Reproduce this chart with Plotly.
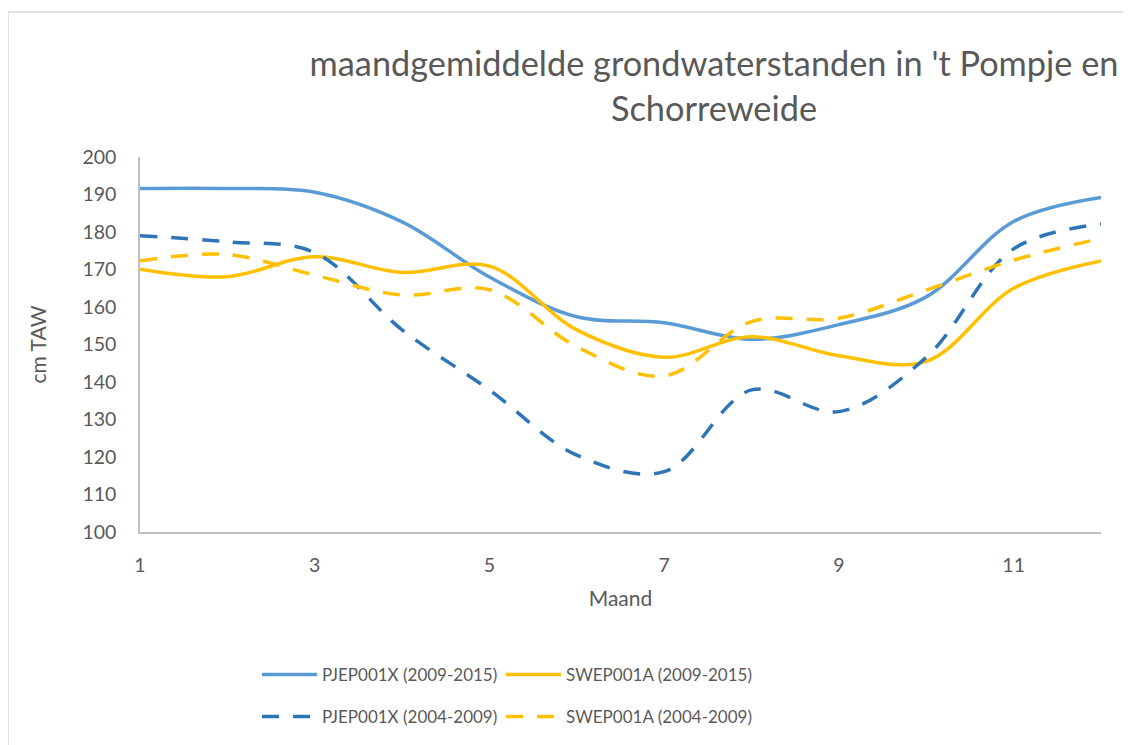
import plotly.graph_objects as go

months = [1, 2, 3, 4, 5, 6, 7, 8, 9, 10, 11, 12]
pj_2009_2015 = [191.6, 191.6, 190.6, 182.7, 168.0, 157.4, 155.8, 151.4, 155.3, 162.7, 182.8, 189.2]
sw_2009_2015 = [170.1, 168.1, 173.4, 169.2, 170.9, 153.9, 146.6, 152.1, 147.0, 145.5, 165.0, 172.3]
pj_2004_2009 = [179.0, 177.4, 174.5, 153.9, 137.9, 120.5, 116.1, 137.9, 132.1, 146.6, 175.5, 182.1]
sw_2004_2009 = [172.3, 174.0, 168.5, 163.2, 164.6, 149.4, 141.6, 156.1, 157.0, 164.5, 172.5, 178.3]

names = ["PJEP001X (2009-2015)", "SWEP001A (2009-2015)", "PJEP001X (2004-2009)", "SWEP001A (2004-2009)"]
x_ticks = [1, 3, 5, 7, 9, 11]
y_ticks = [100, 110, 120, 130, 140, 150, 160, 170, 180, 190, 200]

FONT = "Lato"
GREY = "#595959"

fig = go.Figure()
series = [
    (pj_2009_2015, "#5B9BD5", "solid", "legend"),
    (sw_2009_2015, "#FFC000", "solid", "legend2"),
    (pj_2004_2009, "#2E75B6", "17px,14px", "legend3"),
    (sw_2004_2009, "#FFC000", "17px,14px", "legend4"),
]
for (vals, col, dash, lg), nm in zip(series, names):
    fig.add_trace(go.Scatter(
        x=months, y=vals, name=nm, mode="lines", legend=lg, showlegend=True,
        line=dict(color=col, width=3.5, dash=dash, shape="spline", smoothing=1.0),
    ))

# page body has an 8px margin: figure coords = window coords - 8
OFF = 8
W, H = 1131 - OFF, 745 - OFF
PL, PR, PT, PB = 140, 1101, 157, 532  # plot area in window px
L, R, T, B = PL - OFF, W - (PR - OFF), PT - OFF, H - (PB - OFF)
pw, ph = PR - PL, PB - PT

def px_x(p):
    return (p - PL) / pw

def px_y(q):
    return (PB - q) / ph

legend_common = dict(
    orientation="h", xanchor="left", yanchor="middle",
    font=dict(family=FONT, size=17, color=GREY),
    bgcolor="rgba(0,0,0,0)", itemwidth=55,
)

fig.update_layout(
    width=W, height=H, showlegend=True,
    margin=dict(l=L, r=R, t=T, b=B, autoexpand=False),
    paper_bgcolor="white", plot_bgcolor="white",
    font=dict(family=FONT, color=GREY),
    title=dict(
        text="maandgemiddelde grondwaterstanden in 't Pompje en<br>Schorreweide",
        x=(714 - OFF) / W, xanchor="center", xref="container",
        y=1 - (76 - OFF) / H, yanchor="middle", yref="container",
        font=dict(family=FONT, size=34.3, color=GREY),
    ),
    xaxis=dict(
        range=[1, 12], tickvals=x_ticks, ticktext=[str(v) for v in x_ticks],
        showgrid=False, zeroline=False, showline=True, linecolor="#BFBFBF", linewidth=1.5,
        ticks="", tickfont=dict(family=FONT, size=19.5, color=GREY), ticklabelstandoff=15,
        title=dict(text="Maand", font=dict(family=FONT, size=21, color=GREY), standoff=16),
    ),
    yaxis=dict(
        range=[100, 200], tickvals=y_ticks,
        showgrid=False, zeroline=False, showline=True, linecolor="#BFBFBF", linewidth=1.5,
        ticks="", tickfont=dict(family=FONT, size=19.5, color=GREY), ticklabelstandoff=18,
        title=dict(text="cm TAW", font=dict(family=FONT, size=21, color=GREY), standoff=30),
    ),
    legend=dict(x=px_x(257), y=px_y(675), **legend_common),
    legend2=dict(x=px_x(501), y=px_y(675), **legend_common),
    legend3=dict(x=px_x(257), y=px_y(717), **legend_common),
    legend4=dict(x=px_x(501), y=px_y(717), **legend_common),
    shapes=[dict(
        type="rect", xref="paper", yref="paper",
        x0=px_x(8), x1=px_x(1145), y0=px_y(760), y1=px_y(12),
        line=dict(color="#D9D9D9", width=1.5), fillcolor="rgba(0,0,0,0)", layer="below",
    )],
)

fig.write_html("out.html")
